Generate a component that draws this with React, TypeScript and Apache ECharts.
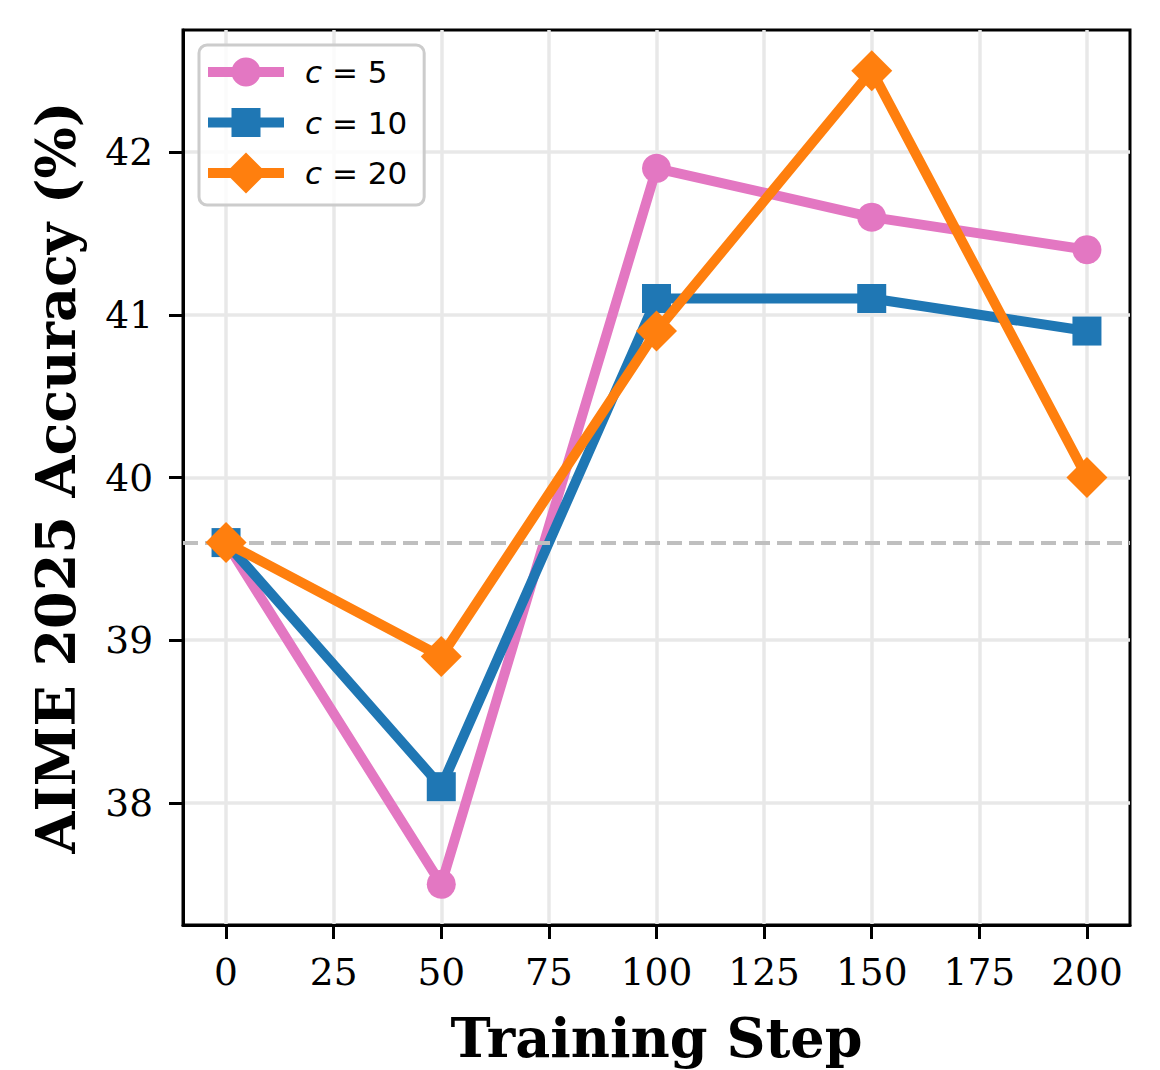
import React, { useEffect, useRef } from "react";
import * as echarts from "echarts";

// Training steps and accuracies for each c setting
const steps = [0, 50, 100, 150, 200];
const accC5 = [39.6, 37.5, 41.9, 41.6, 41.4];
const accC10 = [39.6, 38.1, 41.1, 41.1, 40.9];
const accC20 = [39.6, 38.9, 40.9, 42.5, 40.0];
const baseline = 39.6;

const seriesNames = ["c = 5", "c = 10", "c = 20"];
const seriesColors = ["#e377c2", "#1f77b4", "#ff7f0e"];

const xTicks = [0, 25, 50, 75, 100, 125, 150, 175, 200];
const yTicks = [38, 39, 40, 41, 42];
const xRange = [-10, 210];
const yRange = [37.25, 42.75];

// legend icons: a thick line with the series marker in the middle;
// the leading/trailing moves pin every icon to the same 76x41 box
const iconFrame = "M0,0 M76,41 ";
const legendIcons = [
  "path://" + iconFrame + "M0,15.5H76V25.5H0Z M23.5,20.5A14.5,14.5 0 1 1 52.5,20.5A14.5,14.5 0 1 1 23.5,20.5Z",
  "path://" + iconFrame + "M0,15.5H76V25.5H0Z M23.5,6H52.5V35H23.5Z",
  "path://" + iconFrame + "M0,15.5H76V25.5H0Z M38,0L58.5,20.5L38,41L17.5,20.5Z",
];

const SERIF = "DejaVu Serif";
const SANS = "DejaVu Sans";

export default function App() {
  const ref = useRef<HTMLDivElement>(null);

  useEffect(() => {
    document.body.style.margin = "0";
    if (!ref.current) return;
    const chart = echarts.init(ref.current, undefined, { renderer: "svg" });

    const pairs = (ys: number[]) => steps.map((s, i) => [s, ys[i]]);
    const symbols = ["circle", "rect", "diamond"];
    const sizes = [29, 29, 41];
    const values = [accC5, accC10, accC20];

    const series: any[] = values.map((ys, i) => ({
      name: seriesNames[i],
      type: "line",
      data: pairs(ys),
      symbol: symbols[i],
      symbolSize: sizes[i],
      showSymbol: true,
      z: 3 + i,
      lineStyle: { color: seriesColors[i], width: 10 },
      itemStyle: { color: seriesColors[i], borderWidth: 0 },
      emphasis: { disabled: true },
    }));

    series.push({
      type: "line",
      data: [],
      z: 2,
      silent: true,
      markLine: {
        silent: true,
        symbol: "none",
        label: { show: false },
        lineStyle: { color: "#bfbfbf", width: 4, type: [15, 7] },
        data: [{ yAxis: baseline }],
      },
    });

    chart.setOption({
      animation: false,
      backgroundColor: "#ffffff",
      grid: {
        left: 183,
        top: 30,
        right: 30,
        bottom: 143,
        show: true,
        borderColor: "#000000",
        borderWidth: 3,
        backgroundColor: "transparent",
      },
      legend: {
        left: 199,
        top: 45,
        orient: "vertical",
        itemWidth: 76,
        itemHeight: 41,
        itemGap: 9.5,
        padding: [6.5, 17, 11.5, 9],
        backgroundColor: "rgba(255,255,255,0.8)",
        borderColor: "#cccccc",
        borderWidth: 3,
        borderRadius: 8,
        data: seriesNames.map((n, i) => ({ name: n, icon: legendIcons[i] })),
        formatter: (name: string) => {
          const rest = name.slice(1);
          return `{i|c}{t|${rest}}`;
        },
        textStyle: {
          fontFamily: SANS,
          fontSize: 31,
          color: "#000000",
          rich: {
            i: {
              fontFamily: SANS,
              fontSize: 31,
              fontStyle: "italic",
              color: "#000",
              padding: [0, 0, 0, 16],
            },
            t: { fontFamily: SANS, fontSize: 31, color: "#000" },
          },
        },
      },
      xAxis: {
        type: "value",
        min: xRange[0],
        max: xRange[1],
        name: "Training Step",
        nameLocation: "middle",
        nameGap: 86,
        nameTextStyle: { fontFamily: SERIF, fontWeight: "bold", fontSize: 54, color: "#000" },
        axisLine: { show: true, onZero: false, lineStyle: { color: "#000", width: 3 } },
        axisTick: { show: true, length: 14, lineStyle: { color: "#000", width: 3 }, customValues: xTicks },
        axisLabel: {
          customValues: xTicks,
          margin: 28,
          fontFamily: SERIF,
          fontSize: 37.5,
          color: "#000",
        },
        splitLine: { show: true, lineStyle: { color: "#e8e8e8", width: 3.5 } },
      },
      yAxis: {
        type: "value",
        min: yRange[0],
        max: yRange[1],
        name: "AIME 2025 Accuracy (%)",
        nameLocation: "middle",
        nameGap: 100,
        nameTextStyle: { fontFamily: SERIF, fontWeight: "bold", fontSize: 54, color: "#000" },
        axisLine: { show: true, onZero: false, lineStyle: { color: "#000", width: 3 } },
        axisTick: { show: true, length: 14, lineStyle: { color: "#000", width: 3 }, customValues: yTicks },
        axisLabel: {
          customValues: yTicks,
          margin: 30,
          fontFamily: SERIF,
          fontSize: 37.5,
          color: "#000",
        },
        splitLine: { show: true, lineStyle: { color: "#e8e8e8", width: 3.5 } },
      },
      series,
    });

    return () => chart.dispose();
  }, []);

  return <div ref={ref} style={{ width: 1160, height: 1070 }} />;
}
